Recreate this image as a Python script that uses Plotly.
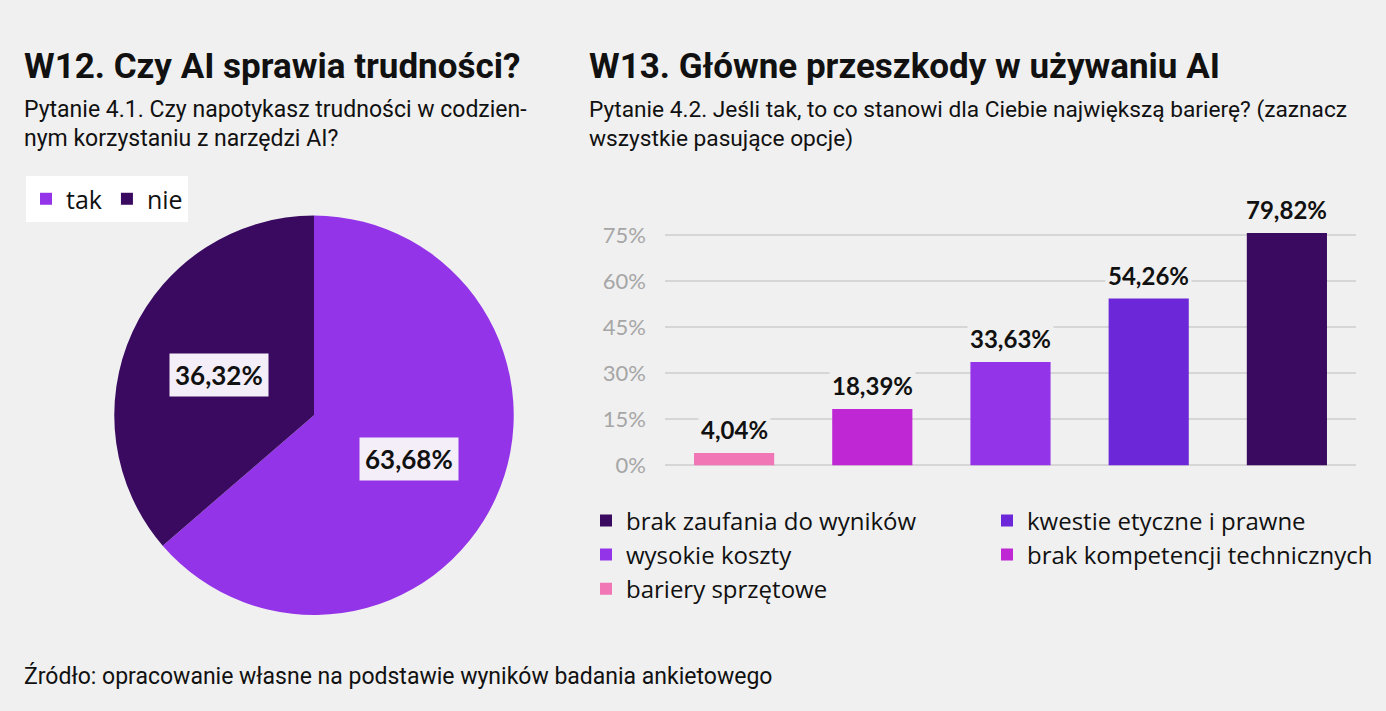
import math
import plotly.graph_objects as go

W, H = 1386, 711
BG = "#F0F0F0"

# ---------------- data ----------------
pie_labels = ["tak", "nie"]
pie_values = [63.68, 36.32]
pie_colors = ["#9434E8", "#3A0A60"]

bar_categories = [
    "bariery sprzętowe",
    "brak kompetencji technicznych",
    "wysokie koszty",
    "kwestie etyczne i prawne",
    "brak zaufania do wyników",
]
bar_values = [4.04, 18.39, 33.63, 54.26, 79.82]
bar_colors = ["#F076B6", "#BE27D3", "#9434E8", "#6C28D8", "#3A0A60"]
bar_legends = ["legend", "legend2", "legend", "legend2", "legend"]
y_ticks = [0, 15, 30, 45, 60, 75]
y_tick_text = ["0%", "15%", "30%", "45%", "60%", "75%"]
Y_MAX = 75.6


def px_x(p):
    return p / W


def px_y(p):
    return 1 - p / H


def pl(v):
    return f"{v:.2f}%".replace(".", ",")


fig = go.Figure()

# ---------------- pie ----------------
pie_dom_x = [px_x(107), px_x(521)]
pie_dom_y = [px_y(625), px_y(211)]
fig.add_trace(go.Pie(
    labels=pie_labels, values=pie_values,
    marker=dict(colors=pie_colors, line=dict(width=0)),
    sort=False, direction="clockwise", rotation=0,
    textinfo="none", hoverinfo="label+percent",
    domain=dict(x=pie_dom_x, y=pie_dom_y),
    legend="legend3",
))

# pie label positions derived from pie geometry
cx = (pie_dom_x[0] + pie_dom_x[1]) / 2 * W
cy = (1 - (pie_dom_y[0] + pie_dom_y[1]) / 2) * H
r = 201
total = sum(pie_values)
start = 90.0
for v in pie_values:
    span = v / total * 360
    mid = math.radians(start - span / 2)
    lx = cx + 0.52 * r * math.cos(mid)
    ly = cy - 0.52 * r * math.sin(mid)
    fig.add_annotation(
        x=px_x(lx), y=px_y(ly), xref="paper", yref="paper",
        text=f"<b>{pl(v)}</b>", showarrow=False,
        font=dict(family="Lato", size=26, color="#111111"),
        bgcolor="#F3EEF7", borderpad=5,
        xanchor="center", yanchor="middle", yshift=-2,
    )
    start -= span

# ---------------- bars ----------------
for cat, v, c, lg in zip(bar_categories, bar_values, bar_colors, bar_legends):
    fig.add_trace(go.Bar(
        x=[cat], y=[v], name=cat, marker=dict(color=c, line=dict(width=0)),
        width=0.58, legend=lg, xaxis="x", yaxis="y",
    ))
    fig.add_annotation(
        x=cat, y=min(v, Y_MAX), xref="x", yref="y",
        text=f"<b>{pl(v)}</b>", showarrow=False,
        font=dict(family="Lato", size=24, color="#111111"),
        bgcolor=BG, borderpad=2,
        xanchor="center", yanchor="bottom", yshift=6,
    )

leg_font = dict(family="Open Sans", size=24, color="#111111")
fig.update_layout(
    width=W, height=H,
    margin=dict(l=0, r=0, t=0, b=0),
    paper_bgcolor=BG, plot_bgcolor=BG,
    barmode="overlay",
    font=dict(family="Lato", color="#111111"),
    xaxis=dict(
        domain=[px_x(665), px_x(1356)],
        categoryorder="array", categoryarray=bar_categories,
        showticklabels=False, showgrid=False, zeroline=False, showline=False,
        range=[-0.5, 4.5], fixedrange=True,
    ),
    yaxis=dict(
        domain=[px_y(470), px_y(229)],
        range=[0, Y_MAX],
        tickvals=y_ticks, ticktext=y_tick_text,
        tickfont=dict(family="Lato", size=22, color="#A6A6A6"),
        gridcolor="#D6D6D6", gridwidth=2,
        zeroline=True, zerolinecolor="#D6D6D6", zerolinewidth=2,
        showline=False, ticks="", ticklabelstandoff=18,
    ),
    legend=dict(
        x=px_x(586), y=px_y(504), xanchor="left", yanchor="top",
        orientation="v", traceorder="reversed",
        bgcolor="rgba(0,0,0,0)", font=leg_font,
        tracegroupgap=0,
    ),
    legend2=dict(
        x=px_x(987), y=px_y(504), xanchor="left", yanchor="top",
        orientation="v", traceorder="reversed",
        bgcolor="rgba(0,0,0,0)", font=leg_font,
        tracegroupgap=0,
    ),
    legend3=dict(
        x=px_x(26), y=px_y(170), xanchor="left", yanchor="top",
        orientation="h",
        bgcolor="#FFFFFF", font=dict(family="Open Sans", size=25, color="#111111"),
    ),
    showlegend=True,
)

# ---------------- texts ----------------
texts = [
    (22, 57, "<b>W12. Czy AI sprawia trudności?</b>", 35, "Roboto"),
    (22, 101, "Pytanie 4.1. Czy napotykasz trudności w codzien-", 23, "Roboto"),
    (22, 131, "nym korzystaniu z narzędzi AI?", 23, "Roboto"),
    (587, 57, "<b>W13. Główne przeszkody w używaniu AI</b>", 35, "Roboto"),
    (587, 101, "Pytanie 4.2. Jeśli tak, to co stanowi dla Ciebie największą barierę? (zaznacz", 22.7, "Roboto"),
    (587, 131, "wszystkie pasujące opcje)", 22.7, "Roboto"),
    (22, 688, "Źródło: opracowanie własne na podstawie wyników badania ankietowego", 23, "Roboto"),
]
for x, y, t, s, f in texts:
    fig.add_annotation(
        x=px_x(x), y=px_y(y), xref="paper", yref="paper",
        text=t, showarrow=False, xanchor="left", yanchor="middle",
        font=dict(family=f, size=s, color="#111111"),
    )

fig.write_html("out.html")
